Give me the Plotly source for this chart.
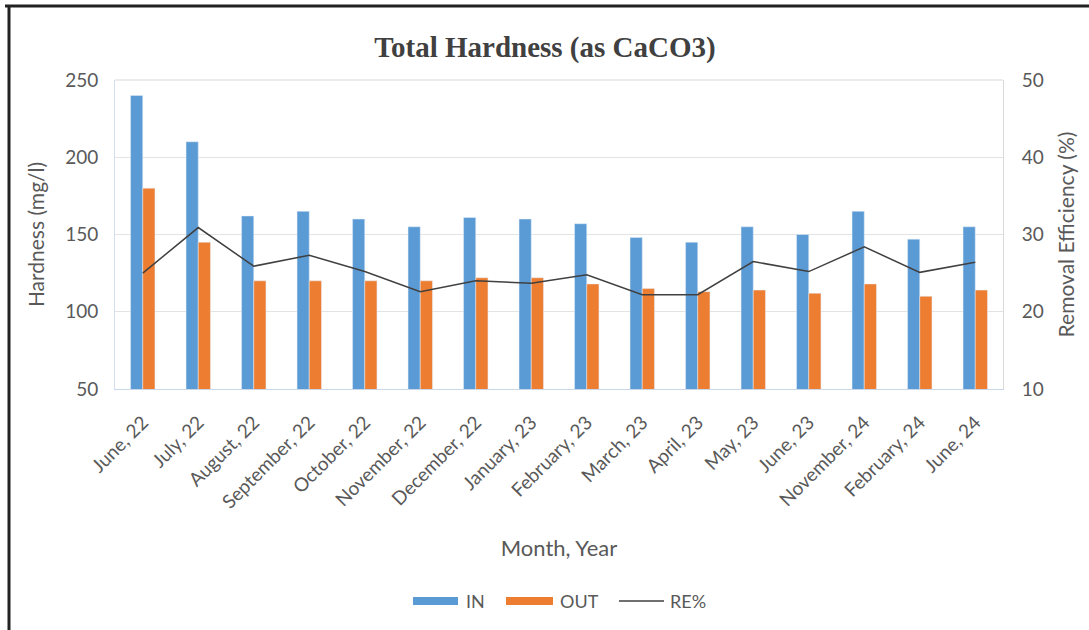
import plotly.graph_objects as go

# Monthly total hardness readings (mg/l as CaCO3) and removal efficiency
months = ["June, 22", "July, 22", "August, 22", "September, 22", "October, 22",
          "November, 22", "December, 22", "January, 23", "February, 23", "March, 23",
          "April, 23", "May, 23", "June, 23", "November, 24", "February, 24", "June, 24"]
hardness_in = [240, 210, 162, 165, 160, 155, 161, 160, 157, 148, 145, 155, 150, 165, 147, 155]
hardness_out = [180, 145, 120, 120, 120, 120, 122, 122, 118, 115, 113, 114, 112, 118, 110, 114]
removal_pct = [25.0, 30.9, 25.9, 27.3, 25.2, 22.6, 24.0, 23.7, 24.8, 22.2, 22.2, 26.5, 25.2, 28.4, 25.1, 26.4]

COLOR_IN = "#5B9BD5"
COLOR_OUT = "#ED7D31"
COLOR_RE = "#404040"

W, H = 1089, 630
L, R, T, B = 115, 86, 80, 241
pw, ph = W - L - R, H - T - B

def px(x):
    return (x - L) / pw

def py(y):
    return (H - B - y) / ph

font_main = "Lato, 'Open Sans', sans-serif"
grey = "#595959"

fig = go.Figure()
fig.add_trace(go.Bar(x=months, y=hardness_in, name="IN", marker_color=COLOR_IN))
fig.add_trace(go.Bar(x=months, y=hardness_out, name="OUT", marker_color=COLOR_OUT))
fig.add_trace(go.Scatter(x=months, y=removal_pct, name="RE%", mode="lines",
                         line=dict(color=COLOR_RE, width=1.5), yaxis="y2"))

# Legend drawn below the axis title with wide bar swatches
legend_y = 601
legend_items = [
    ("rect", COLOR_IN, 413, 458, "IN", 464),
    ("rect", COLOR_OUT, 506, 553, "OUT", 558),
    ("line", COLOR_RE, 619, 664, "RE%", 668),
]
shapes = [
    dict(type="line", xref="paper", yref="paper", x0=px(5), x1=px(1089), y0=py(6), y1=py(6),
         line=dict(color="#222222", width=3)),
    dict(type="line", xref="paper", yref="paper", x0=px(9), x1=px(9), y0=py(5), y1=py(630),
         line=dict(color="#222222", width=3)),
    dict(type="line", xref="paper", yref="paper", x0=0, x1=1, y0=1, y1=1,
         line=dict(color="#D9D9D9", width=1)),
]
annotations = []
for kind, color, x0, x1, label, tx in legend_items:
    if kind == "rect":
        shapes.append(dict(type="rect", xref="paper", yref="paper",
                           x0=px(x0), x1=px(x1), y0=py(legend_y + 4), y1=py(legend_y - 4),
                           fillcolor=color, line=dict(width=0)))
    else:
        shapes.append(dict(type="line", xref="paper", yref="paper",
                           x0=px(x0), x1=px(x1), y0=py(legend_y), y1=py(legend_y),
                           line=dict(color=color, width=1.5)))
    annotations.append(dict(text=label, xref="paper", yref="paper", x=px(tx), y=py(legend_y),
                            xanchor="left", yanchor="middle", showarrow=False,
                            font=dict(size=18, color=grey, family=font_main)))

fig.update_layout(
    width=W, height=H,
    margin=dict(l=L, r=R, t=T, b=B),
    paper_bgcolor="white", plot_bgcolor="white",
    barmode="group", bargap=0.56, bargroupgap=0,
    showlegend=False,
    title=dict(text="<b>Total Hardness (as CaCO3)</b>", xref="container", x=545 / W,
               xanchor="center", yref="container", y=1 - 47 / H, yanchor="middle",
               font=dict(family="'Liberation Serif', serif", size=29, color="#404040")),
    font=dict(family=font_main, color=grey, size=18),
    xaxis=dict(tickangle=-45, tickfont=dict(size=19, color=grey), ticklabelstandoff=14,
               showline=True, linecolor="#C9D7E8", linewidth=1, ticks="",
               title=dict(text="Month, Year", font=dict(size=22, color=grey), standoff=28)),
    yaxis=dict(range=[50, 250], dtick=50, tickfont=dict(size=19, color=grey),
               ticklabelstandoff=12,
               showgrid=True, gridcolor="#E3E3E3", zeroline=False,
               showline=True, linecolor="#D6E0EC", linewidth=1, ticks="",
               title=dict(text="Hardness (mg/l)", font=dict(size=21, color=grey), standoff=14)),
    yaxis2=dict(range=[10, 50], dtick=10, overlaying="y", side="right",
                tickfont=dict(size=19, color=grey), ticklabelstandoff=14,
                showgrid=False, zeroline=False,
                showline=True, linecolor="#D9D9D9", linewidth=1, ticks="",
                title=dict(text="Removal Efficiency (%)", font=dict(size=21, color=grey), standoff=16)),
    shapes=shapes,
    annotations=annotations,
)

fig.write_html("out.html")
